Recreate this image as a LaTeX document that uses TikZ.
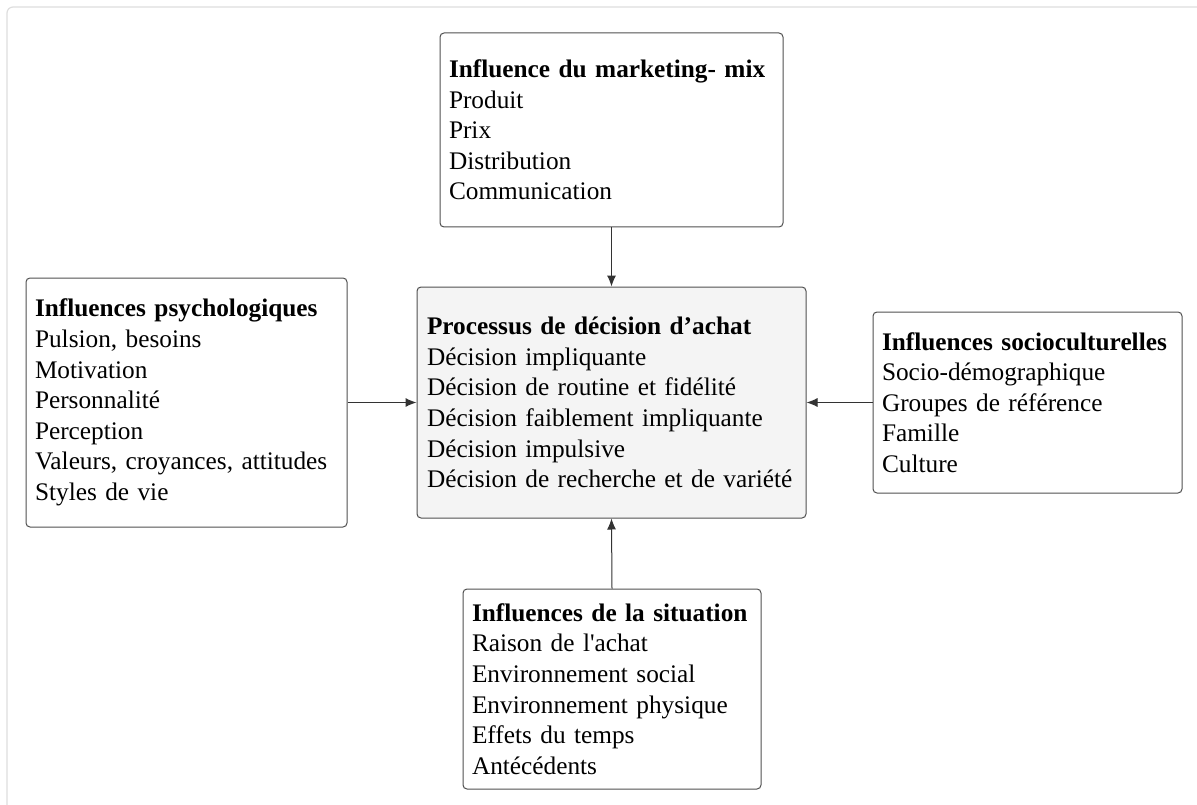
\documentclass[tikz,border=0pt]{standalone}
\usepackage{fontspec}
\setmainfont{Liberation Serif}[Ligatures=TeXOff]
\usetikzlibrary{arrows.meta}
\definecolor{boxline}{HTML}{505050}
\definecolor{arrowc}{HTML}{333333}
\definecolor{centerfill}{HTML}{F4F4F4}
\definecolor{framec}{HTML}{DEDEDE}
\tikzset{
  infobox/.style={draw=boxline, line width=1pt, rounded corners=4pt, rectangle,
    inner xsep=9pt, inner ysep=0pt, align=left, anchor=center,
    font=\fontsize{25.3}{30.6}\selectfont},
  conn/.style={draw=arrowc, line width=1pt, -{Latex[length=11pt,width=9pt]}}
}
\begin{document}
\begin{tikzpicture}[x=1pt,y=-1pt]
\useasboundingbox (0,0) rectangle (1197,805);
\fill[white] (0,0) rectangle (1197,805);
\draw[framec, line width=1.2pt, rounded corners=6pt] (7,830) -- (7,7) -- (1230,7);

\node[infobox, minimum width=343pt, minimum height=194pt, text width=325pt] (mix) at (611.5,130)
  {\textbf{Influence du marketing- mix}\\Produit\\Prix\\Distribution\\Communication};
\node[infobox, fill=centerfill, minimum width=389pt, minimum height=231pt, text width=369pt] (proc) at (611.5,402.5)
  {\textbf{Processus de décision d’achat}\\Décision impliquante\\Décision de routine et fidélité\\Décision faiblement impliquante\\Décision impulsive\\Décision de recherche et de variété};
\node[infobox, minimum width=321pt, minimum height=249pt, text width=303pt] (psy) at (186.5,402.5)
  {\textbf{Influences psychologiques}\\Pulsion, besoins\\Motivation\\Personnalité\\Perception\\Valeurs, croyances, attitudes\\Styles de vie};
\node[infobox, minimum width=309pt, minimum height=181pt, text width=291pt] (soc) at (1027.5,402.5)
  {\textbf{Influences socioculturelles}\\Socio-démographique\\Groupes de référence\\Famille\\Culture};
\node[infobox, minimum width=298pt, minimum height=200pt, text width=280pt] (sit) at (612,689)
  {\textbf{Influences de la situation}\\Raison de l'achat\\Environnement social\\Environnement physique\\Effets du temps\\Antécédents};

\draw[conn] (mix.south) -- (proc.north);
\draw[conn] (psy.east) -- (proc.west);
\draw[conn] (soc.west) -- (proc.east);
\draw[conn] (sit.north) -- (proc.south);
\end{tikzpicture}
\end{document}
